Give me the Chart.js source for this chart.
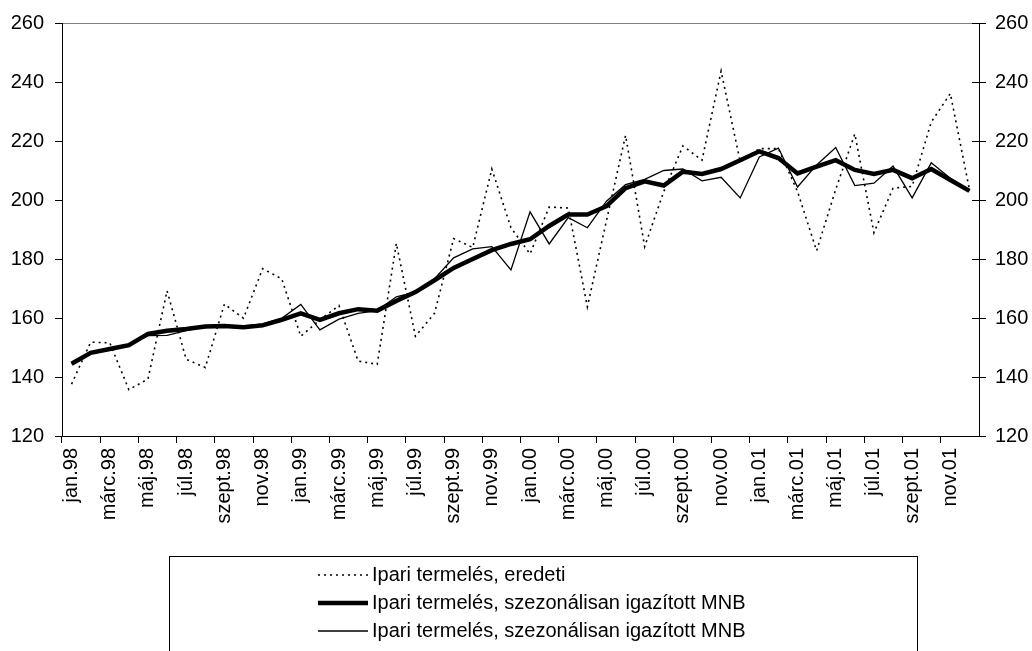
<!DOCTYPE html>
<html>
<head>
<meta charset="utf-8">
<script src="https://cdn.jsdelivr.net/npm/chart.js@4/dist/chart.umd.min.js"></script>
<style>
  html, body { margin: 0; padding: 0; background: #fff; }
  #wrap { width: 1032px; height: 651px; position: relative; }
</style>
</head>
<body>
<div id="wrap"><canvas id="lineChart" width="1032" height="651"></canvas></div>
<script>
// ---------- DATA ----------
var months = ['jan', 'febr', 'márc', 'ápr', 'máj', 'jún', 'júl', 'aug', 'szept', 'okt', 'nov', 'dec'];
var years = ['98', '99', '00', '01'];

var yTicks = [120, 140, 160, 180, 200, 220, 240, 260];

var seriesNames = [
  'Ipari termelés, eredeti',
  'Ipari termelés, szezonálisan igazított MNB',
  'Ipari termelés, szezonálisan igazított MNB'
];

// eredeti (dotted)
var original = [137.6, 151.8, 151.6, 135.7, 139.3, 169.2, 146.0, 143.2, 164.7, 159.9, 176.7, 173.3,
  153.8, 159.4, 164.2, 145.4, 144.3, 185.3, 153.8, 161.6, 186.9, 183.9, 210.5, 190.6,
  181.7, 197.6, 197.3, 163.8, 193.0, 221.9, 184.2, 202.9, 218.3, 213.5, 243.7, 213.0,
  217.4, 217.4, 202.9, 182.8, 203.6, 222.4, 188.9, 204.0, 204.6, 226.4, 236.1, 203.5];

// szezonálisan igazított (thick)
var adjustedThick = [144.5, 148.2, 149.5, 150.8, 154.6, 155.7, 156.3, 157.1, 157.3, 156.9, 157.5, 159.4,
  161.6, 159.4, 161.6, 163.0, 162.5, 165.8, 168.8, 172.8, 177.0, 180.0, 183.0, 185.1,
  186.7, 191.2, 195.1, 195.1, 197.9, 204.0, 206.3, 204.9, 209.6, 208.8, 210.5, 213.5,
  216.5, 214.2, 209.0, 211.3, 213.5, 210.2, 208.8, 210.2, 207.4, 210.5, 206.8, 203.1];

// szezonálisan igazított (thin)
var adjustedThin = [144.5, 148.0, 149.5, 150.8, 154.0, 154.1, 155.7, 157.1, 157.3, 157.3, 158.0, 159.9,
  164.6, 156.0, 159.6, 161.6, 162.5, 167.2, 168.8, 173.3, 180.4, 183.4, 184.2, 176.3,
  196.0, 185.1, 194.0, 190.6, 199.6, 205.2, 207.0, 210.0, 210.5, 206.5, 207.7, 200.7,
  214.6, 217.6, 204.4, 211.9, 217.8, 204.9, 205.7, 211.5, 200.7, 212.6, 207.4, 203.1];

var labels = [];
years.forEach(function (y) {
  months.forEach(function (m) { labels.push(m + '.' + y); });
});

var FONT = "'Liberation Sans', Arial, sans-serif";
Chart.defaults.font.family = FONT;
Chart.defaults.font.size = 20;
Chart.defaults.color = '#000';

// ---------- PLUGINS ----------

// right axis ticks cross the axis line
var crossTicks = {
  id: 'crossTicks',
  afterDraw: function (chart) {
    var ctx = chart.ctx;
    var sc = chart.scales.y2;
    ctx.save();
    ctx.strokeStyle = '#000';
    ctx.lineWidth = 1;
    sc.ticks.forEach(function (t) {
      var py = Math.round(sc.getPixelForValue(t.value)) + 0.5;
      ctx.beginPath();
      ctx.moveTo(sc.left - 7, py);
      ctx.lineTo(sc.left, py);
      ctx.stroke();
    });
    ctx.restore();
  }
};

// legend box under the chart
var boxLegend = {
  id: 'boxLegend',
  afterDraw: function (chart) {
    var ctx = chart.ctx;
    ctx.save();
    ctx.strokeStyle = '#000';
    ctx.lineWidth = 1;
    ctx.strokeRect(169.5, 556.5, 748, 120);
    ctx.font = '20px ' + FONT;
    ctx.textBaseline = 'middle';
    ctx.fillStyle = '#000';
    var rowY = [575, 603, 631];
    chart.data.datasets.forEach(function (ds, i) {
      ctx.beginPath();
      ctx.lineWidth = ds.borderWidth;
      ctx.setLineDash(ds.borderDash || []);
      ctx.moveTo(318, rowY[i]);
      ctx.lineTo(368, rowY[i]);
      ctx.stroke();
      ctx.setLineDash([]);
      ctx.fillText(ds.label, 372, rowY[i]);
    });
    ctx.restore();
  }
};

// ---------- CHART ----------
var ctxLine = document.getElementById('lineChart').getContext('2d');
var lineChart = new Chart(ctxLine, {
  type: 'line',
  data: {
    labels: labels,
    datasets: [{
      label: seriesNames[0],
      data: original,
      borderColor: '#000',
      borderWidth: 1.6,
      borderDash: [2, 4],
      pointRadius: 0,
      tension: 0
    },
    {
      label: seriesNames[1],
      data: adjustedThick,
      borderColor: '#000',
      borderWidth: 4.5,
      pointRadius: 0,
      tension: 0
    },
    {
      label: seriesNames[2],
      data: adjustedThin,
      borderColor: '#000',
      borderWidth: 1.3,
      pointRadius: 0,
      tension: 0
    }]
  },
  options: {
    responsive: false,
    animation: false,
    layout: { padding: { top: 20, left: 0, right: 0, bottom: 0 } },
    plugins: {
      legend: { display: false },
      tooltip: { enabled: false }
    },
    scales: {
      x: {
        offset: true,
        afterFit: function (s) { s.height = 215; },
        grid: {
          offset: true,
          drawOnChartArea: false,
          tickLength: 7,
          tickColor: function (c) { return c.index % 2 === 0 ? '#000' : 'rgba(0,0,0,0)'; }
        },
        border: { color: '#000', width: 1 },
        ticks: {
          autoSkip: false,
          maxRotation: 90,
          minRotation: 90,
          padding: 5,
          callback: function (v, i) { return i % 2 === 0 ? labels[i] : ''; }
        }
      },
      y: {
        position: 'left',
        min: yTicks[0],
        max: yTicks[yTicks.length - 1],
        afterFit: function (s) { s.width = 62; },
        afterBuildTicks: function (s) { s.ticks = yTicks.map(function (v) { return { value: v }; }); },
        grid: {
          drawOnChartArea: true,
          color: function (c) { return c.tick && c.tick.value === 260 ? '#808080' : 'rgba(0,0,0,0)'; },
          tickColor: '#000',
          tickLength: 7
        },
        border: { color: '#000', width: 1 },
        ticks: { padding: 11 }
      },
      y2: {
        position: 'right',
        min: yTicks[0],
        max: yTicks[yTicks.length - 1],
        afterFit: function (s) { s.width = 53; },
        afterBuildTicks: function (s) { s.ticks = yTicks.map(function (v) { return { value: v }; }); },
        grid: {
          drawOnChartArea: false,
          tickColor: '#000',
          tickLength: 7
        },
        border: { color: '#000', width: 1 },
        ticks: { padding: 9 }
      }
    }
  },
  plugins: [crossTicks, boxLegend]
});
</script>
</body>
</html>
